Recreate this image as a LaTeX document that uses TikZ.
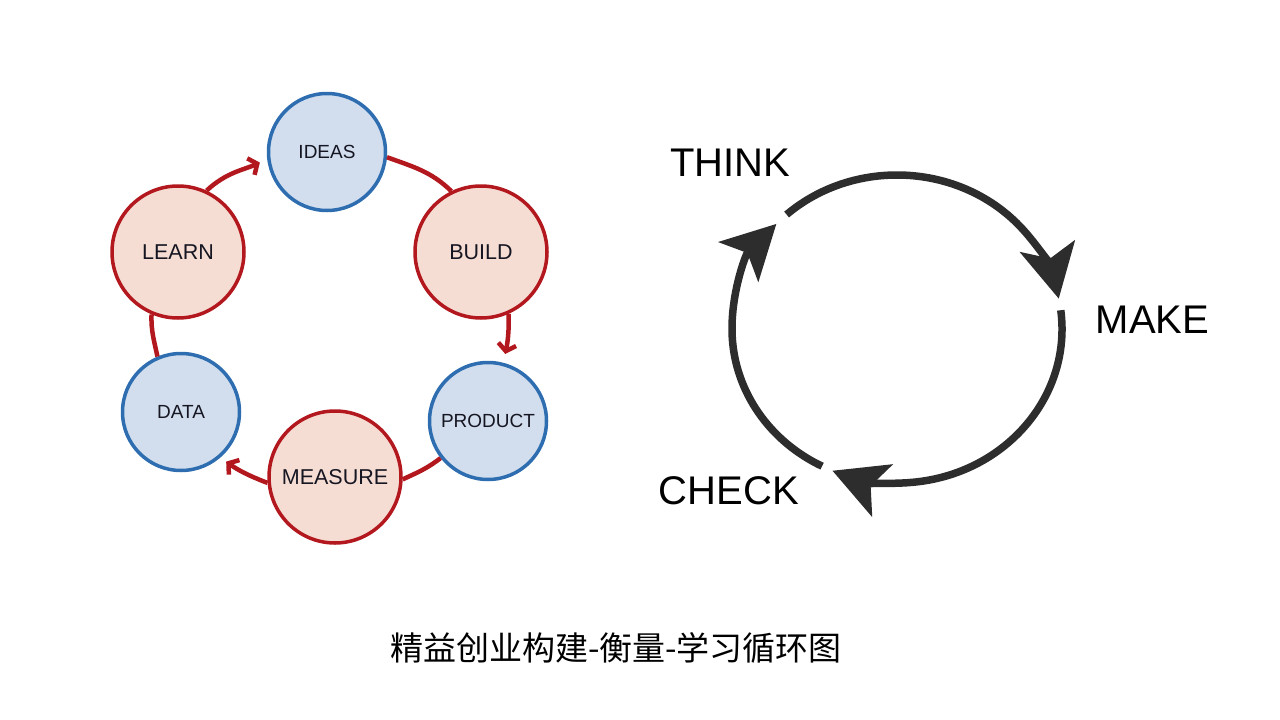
\documentclass[tikz,border=0pt]{standalone}
\usepackage{fontspec}
\setmainfont{Liberation Sans}
\newfontfamily\cjk{Noto Sans CJK SC}
\usetikzlibrary{arrows.meta}
\definecolor{redline}{RGB}{178,24,30}
\definecolor{redfill}{RGB}{245,221,211}
\definecolor{blueline}{RGB}{46,110,176}
\definecolor{bluefill}{RGB}{210,222,238}
\definecolor{txt}{RGB}{22,22,34}
\definecolor{ringc}{RGB}{45,45,45}
\begin{document}
\begin{tikzpicture}[x=1pt,y=1pt,
  redc/.style={circle, draw=redline, fill=redfill, line width=3.5pt, minimum size=132pt, inner sep=0pt, font=\fontsize{21.5}{24}\selectfont, text=txt},
  bluec/.style={circle, draw=blueline, fill=bluefill, line width=3.5pt, minimum size=117pt, inner sep=0pt, font=\fontsize{19}{22}\selectfont, text=txt},
  link/.style={draw=redline, line width=4.5pt},
  barb/.style={-{Straight Barb[length=7pt,width=18pt]}},
  ring/.style={draw=ringc, line width=7.5pt},
  bigtip/.style={-{Stealth[length=54pt,width=57pt,inset=13pt,line width=0pt]}},
  lab/.style={inner sep=0pt, font=\fontsize{40}{44}\selectfont, text=black}
]
\useasboundingbox (0,0) rectangle (1280,-720);

% left cycle
\node[bluec] (IDEAS) at (327,-152) {IDEAS};
\node[redc] (BUILD) at (481,-252) {BUILD};
\node[bluec] (PRODUCT) at (488,-421) {PRODUCT};
\node[redc] (MEASURE) at (335,-477) {MEASURE};
\node[bluec] (DATA) at (181,-412) {DATA};
\node[redc] (LEARN) at (178,-252) {LEARN};

\draw[link] (IDEAS.-5) to[out=-20,in=136] (BUILD.116);
\draw[link,barb,shorten >=9pt] (BUILD.-66) to[out=-88,in=79] (PRODUCT.75);
\draw[link] (PRODUCT.-142) to[out=-142,in=25] (MEASURE.-2);
\draw[link,barb,shorten >=7pt] (MEASURE.185) to[out=159,in=-36] (DATA.-49);
\draw[link] (DATA.113) to[out=102,in=-92] (LEARN.-113);
\draw[link,barb,shorten >=8pt] (LEARN.65) to[out=43,in=-156] (IDEAS.187);

% right cycle
\coordinate (RC) at (897,-329);
\draw[ring,bigtip] ([shift={(132:165pt and 154pt)}]RC) arc[start angle=132,end angle=11.4,x radius=165pt,y radius=154pt];
\draw[ring,bigtip] ([shift={(7:165pt and 154pt)}]RC) arc[start angle=7,end angle=-113,x radius=165pt,y radius=154pt];
\draw[ring,bigtip] ([shift={(243:165pt and 154pt)}]RC) arc[start angle=243,end angle=137,x radius=165pt,y radius=154pt];

\node[lab] (THINK) at (730,-162.5) {THINK};
\node[lab] (MAKE) at (1152.5,-319.5) {MAKE};
\node[lab] (CHECK) at (729,-490.5) {CHECK};

\node[inner sep=0pt, font=\cjk\fontsize{33}{40}\selectfont, text=black] (caption) at (616,-648) {精益创业构建-衡量-学习循环图};
\end{tikzpicture}
\end{document}
